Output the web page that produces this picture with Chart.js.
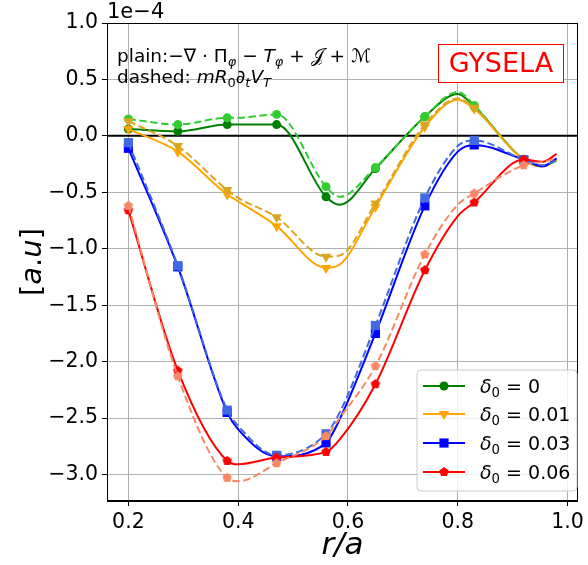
<!DOCTYPE html>
<html>
<head>
<meta charset="utf-8">
<script src="https://cdn.jsdelivr.net/npm/chart.js@4.4.0/dist/chart.umd.min.js"></script>
<style>
  html, body { margin: 0; padding: 0; background: #fff; }
  #wrap { width: 588px; height: 565px; }
</style>
</head>
<body>
<div id="wrap"><canvas id="c" width="588" height="565"></canvas></div>
<script>
// r/a positions where the curves were read (markers only on markerPos)
const rPos = [0.2, 0.29, 0.38, 0.40, 0.47, 0.56, 0.585, 0.65, 0.74, 0.80, 0.83, 0.92, 0.955, 0.98];
const markerPos = [0.2, 0.29, 0.38, 0.47, 0.56, 0.65, 0.74, 0.83, 0.92];
const deltaLabels = ['0', '0.01', '0.03', '0.06'];
const xTicks = [0.2, 0.4, 0.6, 0.8, 1.0];
const yTicks = [-3.0, -2.5, -2.0, -1.5, -1.0, -0.5, 0.0, 0.5, 1.0];

// values in units of 1e-4
// plain: -div Pi_phi - T_phi + J + M
const plain0 = [0.06, 0.04, 0.10, 0.10, 0.10, -0.54, -0.61, -0.29, 0.17, 0.37, 0.26, -0.21, -0.27, -0.21];
const plain1 = [0.06, -0.14, -0.52, -0.58, -0.80, -1.17, -1.14, -0.63, 0.08, 0.32, 0.24, -0.21, -0.27, -0.21];
const plain2 = [-0.11, -1.16, -2.45, -2.60, -2.84, -2.72, -2.51, -1.75, -0.62, -0.14, -0.08, -0.21, -0.27, -0.20];
const plain3 = [-0.66, -2.08, -2.88, -2.91, -2.85, -2.80, -2.69, -2.20, -1.19, -0.71, -0.59, -0.21, -0.23, -0.16];
// dashed: m R0 dt V_T
const dashed0 = [0.15, 0.10, 0.16, 0.16, 0.19, -0.45, -0.54, -0.28, 0.17, 0.39, 0.27, -0.21, -0.26, -0.22];
const dashed1 = [0.13, -0.09, -0.48, -0.55, -0.72, -1.07, -1.06, -0.60, 0.10, 0.33, 0.25, -0.21, -0.26, -0.22];
const dashed2 = [-0.06, -1.15, -2.43, -2.57, -2.83, -2.64, -2.45, -1.68, -0.55, -0.09, -0.04, -0.21, -0.26, -0.22];
const dashed3 = [-0.62, -2.13, -3.03, -3.06, -2.90, -2.66, -2.50, -2.04, -1.05, -0.61, -0.51, -0.26, -0.23, -0.20];

const plainSeries = [plain0, plain1, plain2, plain3];
const dashedSeries = [dashed0, dashed1, dashed2, dashed3];
const lineColors = ['#008000', '#ffa500', '#0000ff', '#ff0000'];
const dashColors = ['#32cd32', '#daa520', '#4169e1', '#f98866'];

const FONT = '"DejaVu Sans", sans-serif';

// pentagon marker (matplotlib 'p')
function pentagon(color, r) {
  const size = Math.ceil(r * 2 + 2);
  const cv = document.createElement('canvas');
  cv.width = size; cv.height = size;
  const g = cv.getContext('2d');
  g.fillStyle = color;
  g.beginPath();
  for (let k = 0; k < 5; k++) {
    const a = -Math.PI / 2 + k * 2 * Math.PI / 5;
    const px = size / 2 + r * Math.cos(a), py = size / 2 + r * Math.sin(a);
    k ? g.lineTo(px, py) : g.moveTo(px, py);
  }
  g.closePath();
  g.fill();
  return cv;
}

function markerFor(i, color) {
  if (i === 0) return { style: 'circle', radius: 4.5, rot: 0 };
  if (i === 1) return { style: 'triangle', radius: 6, rot: 180 };
  if (i === 2) return { style: 'rect', radius: 6.5, rot: 0 };
  return { style: pentagon(color, 5), radius: 5, rot: 0 };
}

const isMarker = rPos.map(x => markerPos.some(m => Math.abs(m - x) < 1e-9));

const datasets = [];
for (let i = 0; i < 4; i++) {
  [[plainSeries[i], lineColors[i], []], [dashedSeries[i], dashColors[i], [7.5, 3.5]]].forEach(([vals, color, dash]) => {
    const mk = markerFor(i, color);
    datasets.push({
      data: rPos.map((x, k) => ({ x: x, y: vals[k] })),
      borderColor: color,
      backgroundColor: color,
      borderWidth: 2,
      borderDash: dash,
      cubicInterpolationMode: 'monotone',
      pointStyle: mk.style,
      pointRotation: mk.rot,
      pointRadius: isMarker.map(m => m ? mk.radius : 0),
      pointBorderWidth: 0,
      pointBackgroundColor: color,
      pointBorderColor: color
    });
  });
}
datasets.forEach((d, i) => d.order = -i);

function drawRuns(ctx, x, y, runs, size) {
  for (const r of runs) {
    const fs = r.sub ? size * 0.7 : size;
    ctx.font = (r.it ? 'italic ' : '') + fs + 'px ' + (r.fam || FONT);
    ctx.fillText(r.t, x, y + (r.sub ? size * 0.22 : 0));
    x += ctx.measureText(r.t).width;
  }
  return x;
}
function runsWidth(ctx, runs, size) {
  let w = 0;
  for (const r of runs) {
    const fs = r.sub ? size * 0.7 : size;
    ctx.font = (r.it ? 'italic ' : '') + fs + 'px ' + (r.fam || FONT);
    w += ctx.measureText(r.t).width;
  }
  return w;
}

const decor = {
  id: 'decor',
  beforeDatasetsDraw(chart) {
    const ctx = chart.ctx, a = chart.chartArea, y0 = chart.scales.y.getPixelForValue(0);
    ctx.save();
    ctx.strokeStyle = '#000';
    ctx.lineWidth = 2;
    ctx.beginPath();
    ctx.moveTo(a.left, y0); ctx.lineTo(a.right, y0);
    ctx.stroke();
    ctx.restore();
  },
  afterDraw(chart) {
    const ctx = chart.ctx, a = chart.chartArea;
    ctx.save();
    // spines
    ctx.strokeStyle = '#000';
    ctx.lineWidth = 1;
    ctx.strokeRect(a.left + 0.5, a.top + 0.5, a.right - a.left - 1, a.bottom - a.top - 1);

    ctx.fillStyle = '#000';
    ctx.textBaseline = 'alphabetic';
    ctx.textAlign = 'left';
    // offset text
    ctx.font = '21px ' + FONT;
    ctx.fillText('1e\u22124', 107, 18);

    // annotation
    drawRuns(ctx, 117, 62, [
      { t: 'plain:' }, { t: '\u2212\u2207 \u00b7 \u03a0' }, { t: '\u03c6', it: 1, sub: 1 },
      { t: ' \u2212 ' }, { t: 'T', it: 1 }, { t: '\u03c6', it: 1, sub: 1 },
      { t: ' + ' }, { t: '\ud835\udca5', fam: '"DejaVu Serif", serif' }, { t: ' + ' }, { t: '\u2133' }
    ], 18.5);
    drawRuns(ctx, 117, 83, [
      { t: 'dashed: ' }, { t: 'mR', it: 1 }, { t: '0', sub: 1 }, { t: '\u2202', it: 1 },
      { t: 't', it: 1, sub: 1 }, { t: 'V', it: 1 }, { t: 'T', it: 1, sub: 1 }
    ], 18.5);

    // GYSELA box
    ctx.fillStyle = '#fff';
    ctx.fillRect(438, 44, 125, 38);
    ctx.strokeStyle = '#ff0000';
    ctx.strokeRect(438.5, 44.5, 125, 38);
    ctx.fillStyle = '#ff0000';
    ctx.font = '27px ' + FONT;
    ctx.textAlign = 'center';
    ctx.fillText('GYSELA', 501, 72);
    ctx.textAlign = 'left';

    // axis titles
    ctx.fillStyle = '#000';
    ctx.font = 'italic 31px ' + FONT;
    ctx.textAlign = 'center';
    ctx.fillText('r/a', (a.left + a.right) / 2, 554);
    ctx.textAlign = 'left';
    const yl = [{ t: '[' }, { t: 'a', it: 1 }, { t: '.' }, { t: 'u', it: 1 }, { t: ']' }];
    ctx.save();
    ctx.translate(41, (a.top + a.bottom) / 2);
    ctx.rotate(-Math.PI / 2);
    const w = runsWidth(ctx, yl, 29);
    drawRuns(ctx, -w / 2, 0, yl, 29);
    ctx.restore();

    // legend
    const lx = 417, ly = 370, lw = 160, lh = 121, rr = 4;
    ctx.beginPath();
    ctx.moveTo(lx + rr, ly);
    ctx.arcTo(lx + lw, ly, lx + lw, ly + lh, rr);
    ctx.arcTo(lx + lw, ly + lh, lx, ly + lh, rr);
    ctx.arcTo(lx, ly + lh, lx, ly, rr);
    ctx.arcTo(lx, ly, lx + lw, ly, rr);
    ctx.closePath();
    ctx.fillStyle = 'rgba(255,255,255,0.8)';
    ctx.fill();
    ctx.strokeStyle = '#cccccc';
    ctx.lineWidth = 1;
    ctx.stroke();
    const rows = [386, 414, 443, 472];
    for (let i = 0; i < 4; i++) {
      const y = rows[i];
      ctx.strokeStyle = lineColors[i];
      ctx.lineWidth = 2;
      ctx.beginPath(); ctx.moveTo(423, y); ctx.lineTo(465, y); ctx.stroke();
      const mk = markerFor(i, lineColors[i]);
      ctx.fillStyle = lineColors[i];
      ctx.strokeStyle = lineColors[i];
      Chart.helpers.drawPoint(ctx, { pointStyle: mk.style, radius: mk.radius, rotation: mk.rot, borderWidth: 0 }, 444, y);
      ctx.fillStyle = '#000';
      drawRuns(ctx, 480, y + 7, [{ t: '\u03b4', it: 1 }, { t: '0', sub: 1 }, { t: ' = ' + deltaLabels[i] }], 19);
    }
    ctx.restore();
  }
};

new Chart(document.getElementById('c'), {
  type: 'line',
  data: { datasets: datasets },
  options: {
    responsive: false,
    animation: false,
    devicePixelRatio: 1,
    layout: { padding: { top: 23, right: 5, left: 0, bottom: 0 } },
    plugins: { legend: { display: false }, tooltip: { enabled: false } },
    scales: {
      x: {
        type: 'linear',
        min: 0.161,
        max: 1.019,
        afterBuildTicks: s => { s.ticks = xTicks.map(v => ({ value: v })); },
        afterFit: s => { s.height = 64; },
        grid: { color: '#b0b0b0', lineWidth: 1, tickColor: '#000', tickLength: 5 },
        border: { display: true, color: '#000', width: 1 },
        ticks: {
          padding: 4, maxRotation: 0, color: '#000',
          font: { family: 'DejaVu Sans', size: 20.5 },
          callback: v => v.toFixed(1)
        }
      },
      y: {
        min: -3.235,
        max: 1.0,
        afterBuildTicks: s => { s.ticks = yTicks.map(v => ({ value: v })); },
        afterFit: s => { s.width = 107; },
        grid: { color: '#b0b0b0', lineWidth: 1, tickColor: '#000', tickLength: 5 },
        border: { display: true, color: '#000', width: 1 },
        ticks: {
          padding: 4, color: '#000',
          font: { family: 'DejaVu Sans', size: 20.5 },
          callback: v => (v < 0 ? '\u2212' : '') + Math.abs(v).toFixed(1)
        }
      }
    }
  },
  plugins: [decor]
});
</script>
</body>
</html>
